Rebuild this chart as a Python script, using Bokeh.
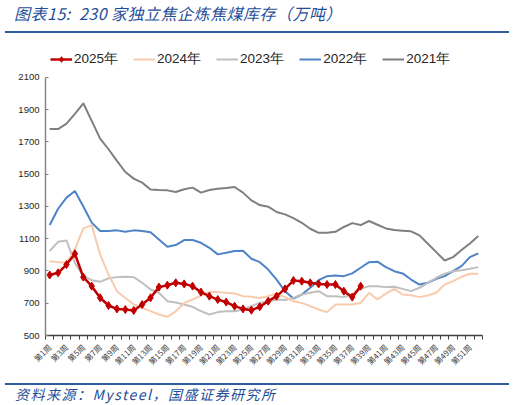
from math import pi
from bokeh.plotting import figure
from bokeh.models import (ColumnDataSource, Range1d, FixedTicker, Legend,
                          LegendItem, Div)
from bokeh.layouts import column
from bokeh.embed import file_html
from bokeh.resources import INLINE

weeks = list(range(1, 53))
week_labels = {w: "第%d周" % w for w in weeks}

y2021 = [1780, 1780, 1814, 1875, 1940, 1831, 1721, 1655, 1583, 1514,
         1473, 1448, 1406, 1402, 1400, 1390, 1407, 1417, 1386, 1402,
         1410, 1414, 1421, 1386, 1338, 1309, 1299, 1266, 1251, 1228,
         1199, 1162, 1137, 1137, 1143, 1173, 1197, 1185, 1210, 1187,
         1164, 1154, 1150, 1146, 1121, 1069, 1017, 965, 986, 1030,
         1071, 1117]
y2022 = [1185, 1286, 1355, 1396, 1300, 1200, 1148, 1148, 1152, 1143,
         1152, 1148, 1140, 1096, 1050, 1061, 1092, 1092, 1075, 1044,
         1003, 1013, 1024, 1026, 976, 955, 909, 847, 775, 729,
         754, 796, 843, 868, 872, 868, 885, 920, 955, 958,
         924, 899, 885, 847, 816, 827, 851, 868, 899, 930,
         986, 1009]
y2023 = [1024, 1081, 1089, 950, 868, 843, 833, 855, 862, 865,
         862, 827, 785, 765, 713, 705, 692, 678, 651, 630,
         645, 651, 651, 661, 682, 702, 713, 723, 720, 733,
         754, 765, 775, 744, 744, 738, 754, 789, 806, 806,
         800, 802, 789, 775, 796, 827, 858, 883, 899, 905,
         914, 924]
y2024 = [961, 955, 951, 1034, 1164, 1183, 1003, 878, 775, 733,
         692, 671, 651, 630, 616, 650, 702, 723, 748, 769,
         769, 765, 760, 744, 740, 733, 744, 760, 738, 713,
         702, 682, 661, 645, 692, 692, 692, 702, 765, 723,
         760, 789, 754, 750, 738, 748, 765, 816, 837, 864,
         883, 883]
y2025 = [875, 889, 940, 1007, 862, 806, 734, 686, 665, 661,
         655, 692, 734, 800, 812, 827, 820, 806, 769, 744,
         723, 707, 682, 665, 657, 678, 713, 744, 789, 841,
         837, 827, 820, 816, 816, 775, 738, 806]

BLUE = "#1F4E99"

title = Div(text=(
    '<div style="width:504px;height:28px;border-bottom:2px solid #2E5C9E;'
    'font-family:\'Noto Sans CJK SC\';font-style:italic;font-size:16px;'
    'letter-spacing:0.5px;line-height:16px;color:%s;padding-left:9px;'
    'box-sizing:border-box;white-space:nowrap;">'
    '图表15:&nbsp; 230 家独立焦企炼焦煤库存（万吨）</div>' % BLUE),
    width=504, height=30)

p = figure(width=504, height=338, output_backend="svg", toolbar_location=None,
           x_range=Range1d(0.5, 52.5), y_range=Range1d(500, 2286),
           min_border_left=45, min_border_right=22, min_border_top=7,
           min_border_bottom=43)
p.outline_line_color = None
p.xgrid.visible = False
p.ygrid.visible = False

src = ColumnDataSource(data=dict(x=weeks, y2021=y2021, y2022=y2022,
                                 y2023=y2023, y2024=y2024))
src25 = ColumnDataSource(data=dict(x=weeks[:len(y2025)], y=y2025))

r21 = p.line("x", "y2021", source=src, line_color="#7F7F7F", line_width=2)
r22 = p.line("x", "y2022", source=src, line_color="#4E83C6", line_width=2)
r23 = p.line("x", "y2023", source=src, line_color="#BFBFBF", line_width=2)
r24 = p.line("x", "y2024", source=src, line_color="#F8CBAD", line_width=2)
r25 = p.line("x", "y", source=src25, line_color="#C00000", line_width=2.5)
m25 = p.scatter("x", "y", source=src25, marker="diamond", size=8,
                fill_color="#C00000", line_color="#C00000")

# axes
xa = p.xaxis[0]
xa.ticker = FixedTicker(ticks=weeks[::2],
                        minor_ticks=[w - 0.5 for w in weeks] + [52.5])
xa.major_label_overrides = week_labels
xa.major_label_orientation = pi / 4
xa.major_label_text_font = "Noto Sans CJK SC"
xa.major_label_text_font_size = "8px"
xa.major_label_text_color = "#404040"
xa.major_label_standoff = 6
xa.major_tick_in = 0
xa.major_tick_out = 0
xa.minor_tick_in = 0
xa.minor_tick_out = 4
xa.minor_tick_line_color = "#404040"
xa.axis_line_color = "#404040"
xa.axis_line_width = 1.5
xa.bounds = (0.5, 52.5)

ya = p.yaxis[0]
ya.ticker = FixedTicker(ticks=list(range(500, 2101, 200)), minor_ticks=[])
ya.bounds = (500, 2100)
ya.major_label_text_font = "Liberation Sans"
ya.major_label_text_font_size = "9.5px"
ya.major_label_text_color = "#262626"
ya.major_tick_in = 3
ya.major_tick_out = 0
ya.major_tick_line_color = "#7F7F7F"
ya.axis_line_color = "#868686"
ya.axis_line_width = 1.5
ya.major_label_standoff = 6

legend = Legend(items=[
    LegendItem(label="2025年", renderers=[r25, m25]),
    LegendItem(label="2024年", renderers=[r24]),
    LegendItem(label="2023年", renderers=[r23]),
    LegendItem(label="2022年", renderers=[r22]),
    LegendItem(label="2021年", renderers=[r21]),
], orientation="horizontal", location=(5, 267))
legend.padding = 0
legend.margin = 0
legend.spacing = 15
legend.glyph_width = 22
legend.glyph_height = 14
legend.label_standoff = 2
legend.label_height = 16
legend.label_text_font = "Liberation Sans"
legend.label_text_font_size = "13.5px"
legend.label_text_color = "#262626"
legend.border_line_color = None
legend.background_fill_alpha = 0
p.add_layout(legend)

source = Div(text=(
    '<div style="width:504px;height:21px;border-top:2px solid #2E5C9E;'
    'font-family:\'Noto Sans CJK SC\';font-style:italic;font-size:14px;'
    'letter-spacing:1.5px;line-height:19px;color:%s;padding-left:10px;'
    'box-sizing:border-box;white-space:nowrap;">'
    '资料来源：Mysteel，国盛证券研究所</div>' % BLUE),
    width=504, height=21)

page = column(title, p, source, spacing=0)

open("out.html", "w").write(file_html(page, INLINE))
